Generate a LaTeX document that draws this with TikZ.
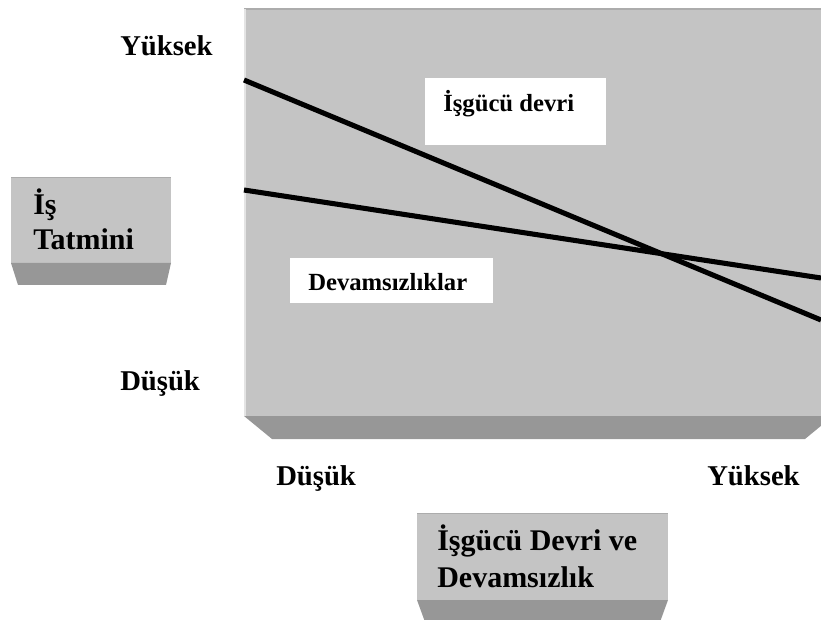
\documentclass[tikz,border=0pt]{standalone}
\usepackage{fontspec}
\setmainfont{Liberation Serif}
\definecolor{panel}{RGB}{196,196,196}
\definecolor{bevel}{RGB}{151,151,151}
\definecolor{rim}{RGB}{172,172,172}
\definecolor{glint}{RGB}{228,228,228}
\begin{document}
\begin{tikzpicture}[x=0.75pt,y=-0.75pt,
  axislabel/.style={inner sep=0pt,anchor=base west,font=\fontsize{21.5}{26}\selectfont\bfseries},
  boxlabel/.style={inner sep=0pt,anchor=base west,font=\fontsize{22.5}{27}\selectfont\bfseries},
  tag/.style={inner sep=0pt,anchor=base west,font=\fontsize{18.5}{22}\selectfont\bfseries},
  trend/.style={line width=3.8pt,line cap=butt},
  plate/.style={fill=panel},
  skirt/.style={fill=bevel},
  card/.style={fill=white}]
\useasboundingbox (0,0) rectangle (821,620);
\begin{scope}
\clip (0,0) rectangle (821,620);

% main plotting plate with its lower bevel
\fill[plate] (244,9) rectangle (833,416);
\fill[skirt] (244,416) -- (833,416) -- (805,439) -- (272,439) -- cycle;
\draw[rim,line width=1.5pt] (244,9.5) -- (833,9.5);
\draw[glint,line width=1.5pt] (244.5,9) -- (244.5,416);

% white label cards
\fill[card] (425,78) rectangle (606,145);
\fill[card] (290,258) rectangle (493,303);
\node[tag] (turnover) at (443,112) {İşgücü devri};
\node[tag] (absence) at (308,291) {Devamsızlıklar};

% trend lines
\coordinate (t0) at (244,80);
\coordinate (t1) at (821,320);
\coordinate (a0) at (244,190);
\coordinate (a1) at (821,278);
\draw[trend] (t0) -- (t1);
\draw[trend] (a0) -- (a1);

% vertical axis box
\fill[plate] (11,177) rectangle (171,263);
\fill[skirt] (11,263) -- (171,263) -- (166,285) -- (18,285) -- cycle;
\draw[rim,line width=1.2pt] (11,177.5) -- (171,177.5);
\node[boxlabel] (ylab1) at (33,215) {İş};
\node[boxlabel] (ylab2) at (33,250) {Tatmini};

% horizontal axis box
\fill[plate] (417,513) rectangle (668,600);
\fill[skirt] (417,600) -- (668,600) -- (660,622) -- (425,622) -- cycle;
\draw[rim,line width=1.2pt] (417,513.5) -- (668,513.5);
\node[boxlabel] (xlab1) at (437,550) {İşgücü Devri ve};
\node[boxlabel] (xlab2) at (437,587) {Devamsızlık};

% axis end labels
\node[axislabel] (yhigh) at (120,56) {Yüksek};
\node[axislabel] (ylow) at (120,390) {Düşük};
\node[axislabel] (xlow) at (276,485) {Düşük};
\node[axislabel] (xhigh) at (707,485) {Yüksek};
\end{scope}
\end{tikzpicture}
\end{document}
